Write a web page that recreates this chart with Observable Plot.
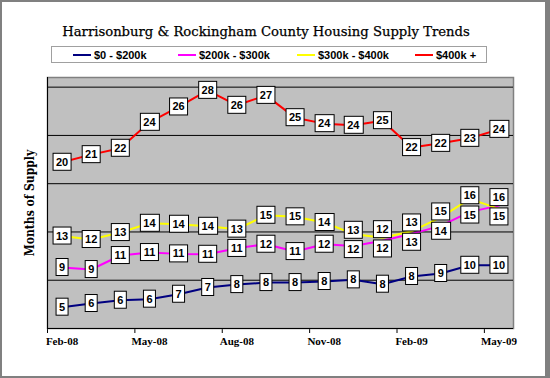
<!DOCTYPE html>
<html><head><meta charset="utf-8">
<script src="https://cdn.jsdelivr.net/npm/d3@7"></script>
<script src="https://cdn.jsdelivr.net/npm/@observablehq/plot@0.6"></script>
<style>
html,body{margin:0;padding:0;background:#fff;}
#wrap{position:relative;width:550px;height:378px;overflow:hidden;background:#fff;}
#border{position:absolute;left:0;top:0;width:550px;height:378px;box-sizing:border-box;border-style:solid;border-color:#808080;border-width:2px 5px 2px 2px;pointer-events:none;z-index:5;}
#title{position:absolute;left:0;width:532px;top:22px;text-align:center;font-family:"DejaVu Serif",serif;font-weight:normal;font-size:13.2px;line-height:20px;color:#000;white-space:nowrap;-webkit-text-stroke:0.25px #000;}
#legend{position:absolute;left:51px;top:46px;width:436px;height:17px;box-sizing:border-box;border:1px solid #a0a0a0;}
.item{position:absolute;top:0;height:15px;display:flex;align-items:center;font:bold 11px "Liberation Sans",Arial,sans-serif;color:#000;white-space:nowrap;}
.sw{width:18px;height:2px;margin-right:3px;}
#chart{position:absolute;left:0;top:66px;}
</style></head>
<body>
<div id="wrap">
  <div id="title"></div>
  <div id="legend"></div>
  <div id="chart"></div>
  <div id="border"></div>
</div>
<script>
// ---- data ----
const chartTitle = "Harrisonburg & Rockingham County Housing Supply Trends";
const yTitle = "Months of Supply";
const months = ["Feb-08","Mar-08","Apr-08","May-08","Jun-08","Jul-08","Aug-08","Sep-08","Oct-08","Nov-08","Dec-08","Jan-09","Feb-09","Mar-09","Apr-09","May-09"];
const seriesNames = ["$0 - $200k","$200k - $300k","$300k - $400k","$400k +"];
const under200k   = [5.21, 5.59, 5.93, 6.04, 6.55, 7.25, 7.55, 7.76, 7.76, 7.87, 8.04, 7.59, 8.39, 8.70, 9.55, 9.55];
const k200to300   = [9.32, 9.11, 10.56, 10.87, 10.73, 10.69, 11.31, 11.73, 10.97, 11.73, 11.55, 12.08, 12.80, 13.63, 15.08, 15.73];
const k300to400   = [12.58, 12.22, 12.94, 13.90, 13.80, 13.59, 13.28, 14.73, 14.57, 13.98, 12.80, 12.40, 13.07, 14.52, 16.43, 15.39];
const over400k    = [20.22, 21.01, 21.67, 24.36, 25.95, 27.67, 26.12, 27.15, 24.84, 24.22, 24.05, 24.53, 21.74, 22.18, 22.70, 23.63];
const yAxisMin = 3, yAxisMax = 29, yMajorUnit = 5;
const labelEvery = 3;

// ---- styles ----
const seriesColors = ["#000080","#ff00ff","#ffff00","#ff0000"];
const minLabelGap = 2.0; // data units between the two middle series' labels

// ---- build tables ----
const seriesValues = [under200k, k200to300, k300to400, over400k];
const rows = [];
seriesValues.forEach((vals, s) => vals.forEach((v, i) => rows.push({series: seriesNames[s], s, i, value: v, label: Math.round(v), labelY: v})));
months.forEach((m, i) => {
  const a = rows.find(r => r.s === 1 && r.i === i), b = rows.find(r => r.s === 2 && r.i === i);
  const hi = a.value >= b.value ? a : b, lo = hi === a ? b : a;
  if (hi.value - lo.value < minLabelGap) {
    const mid = (hi.value + lo.value) / 2;
    hi.labelY = mid + minLabelGap / 2;
    lo.labelY = mid - minLabelGap / 2;
  }
});
const gridValues = d3.range(yAxisMin + yMajorUnit, yAxisMax, yMajorUnit);
const labelIdx = d3.range(0, months.length, labelEvery);
const tickBounds = labelIdx.map(i => i - 0.5);

// ---- title & legend ----
document.getElementById("title").textContent = chartTitle;
const legendLeft = [21, 126, 245, 363];
const leg = document.getElementById("legend");
seriesNames.forEach((n, s) => {
  const it = document.createElement("div");
  it.className = "item"; it.style.left = legendLeft[s] + "px";
  const sw = document.createElement("span"); sw.className = "sw"; sw.style.background = seriesColors[s];
  const tx = document.createElement("span"); tx.textContent = n;
  it.appendChild(sw); it.appendChild(tx); leg.appendChild(it);
});

// ---- plot ----
const chart = Plot.plot({
  width: 550, height: 306,
  marginTop: 11, marginBottom: 44, marginLeft: 47, marginRight: 37,
  style: {background: "transparent", overflow: "visible"},
  x: {type: "linear", domain: [-0.5, months.length - 0.5], ticks: tickBounds, tickFormat: () => "", tickSize: 5, label: null},
  y: {domain: [yAxisMin, yAxisMax], axis: null},
  color: {domain: seriesNames, range: seriesColors},
  marks: [
    Plot.frame({fill: "#c0c0c0", stroke: "#808080", strokeWidth: 1.5}),
    Plot.ruleY(gridValues, {stroke: "#000", strokeWidth: 1}),
    Plot.ruleY([yAxisMin], {stroke: "#000", strokeWidth: 1}),
    Plot.ruleX([-0.5], {stroke: "#000", strokeWidth: 1}),
    Plot.line(rows, {x: "i", y: "value", z: "series", stroke: "series", strokeWidth: 2}),
    Plot.text(rows, {x: "i", y: "labelY", text: "label", fill: "#000", fontWeight: "bold", fontSize: 11,
      fontFamily: "Liberation Sans, Arial, sans-serif", ariaDescription: "data-labels"}),
    Plot.text(labelIdx, {x: d => d, text: d => months[d], frameAnchor: "bottom", dy: 16, fill: "#000",
      fontWeight: "bold", fontSize: 11, fontFamily: "Liberation Serif, Times New Roman, serif"}),
    Plot.text([yTitle], {text: d => d, frameAnchor: "left", textAnchor: "middle", rotate: -90, dx: -17, fill: "#000",
      fontWeight: "bold", fontSize: 12, fontFamily: "DejaVu Serif Condensed, DejaVu Serif, serif"})
  ]
});
document.getElementById("chart").appendChild(chart);

// white boxes behind the data labels
const lg = chart.querySelector('g[aria-description="data-labels"]');
if (lg) {
  lg.querySelectorAll("text").forEach(t => {
    const b = t.getBBox();
    const cx = b.x + b.width / 2, cy = b.y + b.height / 2;
    const w = Math.round(b.width + 6), h = 17;
    const r = document.createElementNS("http://www.w3.org/2000/svg", "rect");
    r.setAttribute("x", cx - w / 2);
    r.setAttribute("y", cy - h / 2);
    r.setAttribute("width", w);
    r.setAttribute("height", h);
    r.setAttribute("fill", "#fff");
    r.setAttribute("stroke", "#000");
    r.setAttribute("stroke-width", 1);
    const tr = t.getAttribute("transform");
    if (tr) r.setAttribute("transform", tr);
    t.parentNode.insertBefore(r, t);
  });
}
</script>
</body></html>
